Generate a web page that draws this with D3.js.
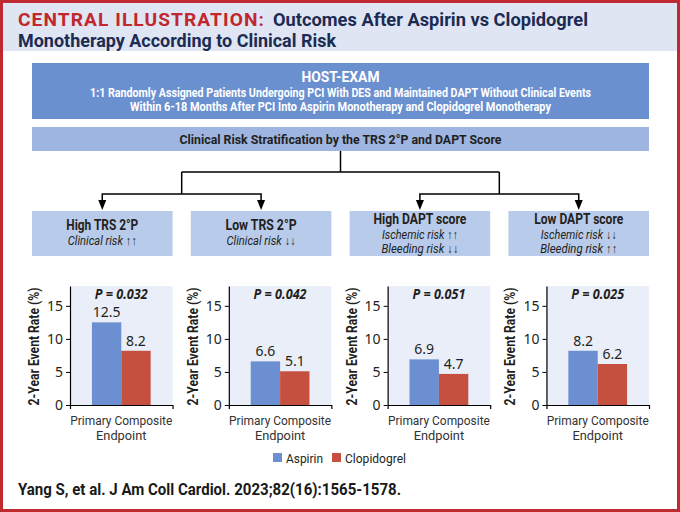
<!DOCTYPE html>
<html><head><meta charset="utf-8">
<script src="https://cdn.jsdelivr.net/npm/d3@7"></script>
<style>
html,body{margin:0;padding:0;background:#fff;}
svg{display:block;}
.cond{font-family:Roboto,"Noto Sans",sans-serif;}
.reg{font-family:"Noto Sans","Open Sans",sans-serif;}
</style>
</head><body>
<script>
// ---------- data ----------
const titleRed = "CENTRAL ILLUSTRATION:";
const titleLine1 = "Outcomes After Aspirin vs Clopidogrel";
const titleLine2 = "Monotherapy According to Clinical Risk";
const hostTitle = "HOST-EXAM";
const hostLines = [
  "1:1 Randomly Assigned Patients Undergoing PCI With DES and Maintained DAPT Without Clinical Events",
  "Within 6-18 Months After PCI Into Aspirin Monotherapy and Clopidogrel Monotherapy"
];
const stratText = "Clinical Risk Stratification by the TRS 2°P and DAPT Score";
const groups = ["High TRS 2°P", "Low TRS 2°P", "High DAPT score", "Low DAPT score"];
const groupSubs = [
  ["Clinical risk ↑↑"],
  ["Clinical risk ↓↓"],
  ["Ischemic risk ↑↑", "Bleeding risk ↓↓"],
  ["Ischemic risk ↓↓", "Bleeding risk ↑↑"]
];
const pValues = ["P = 0.032", "P = 0.042", "P = 0.051", "P = 0.025"];
const seriesNames = ["Aspirin", "Clopidogrel"];
const aspirin = [12.5, 6.6, 6.9, 8.2];
const clopidogrel = [8.2, 5.1, 4.7, 6.2];
const endpoint = ["Primary Composite", "Endpoint"];
const yTicks = [0, 5, 10, 15];
const yLabel = "2-Year Event Rate (%)";
const citation = "Yang S, et al. J Am Coll Cardiol. 2023;82(16):1565-1578.";

// ---------- styles ----------
const C = {
  border: "#bf2a30", band: "#dfe5f3", red: "#c1272d", navy: "#1c2b52",
  host: "#6b90d0", strat: "#9eb4e1", box: "#b9cbea", panel: "#e9eef8",
  aspirin: "#6b8fd1", clop: "#c65040", text: "#231f20"
};
const W = 680, H = 512;
const svg = d3.select("body").append("svg").attr("width", W).attr("height", H);
// squeeze a text/tspan to a measured width (emulates the condensed face of the original)
function fit(sel, w) {
  const n = sel.node().getComputedTextLength();
  if (Math.abs(n - w) > 0.5) sel.attr("textLength", w).attr("lengthAdjust", "spacingAndGlyphs");
  return sel;
}

// title band + border
svg.append("rect").attr("x", 2).attr("y", 2).attr("width", W - 4).attr("height", 49).attr("fill", C.band);
svg.append("rect").attr("x", 1.5).attr("y", 1.5).attr("width", W - 3).attr("height", H - 3)
  .attr("fill", "none").attr("stroke", C.border).attr("stroke-width", 3);

const tt = svg.append("text").attr("class", "cond").attr("font-size", 18).attr("font-weight", "bold");
fit(tt.append("tspan").attr("x", 18).attr("y", 26).attr("fill", C.red).attr("letter-spacing", 1).text(titleRed), 247);
fit(tt.append("tspan").attr("x", 273).attr("y", 26).attr("fill", C.navy).text(titleLine1), 315);
fit(tt.append("tspan").attr("x", 18).attr("y", 47).attr("fill", C.navy).text(titleLine2), 318);

// HOST box
const L = 32, R = 649;
svg.append("rect").attr("x", L).attr("y", 63).attr("width", R - L).attr("height", 56).attr("fill", C.host);
const mid = (L + R) / 2;
const ht = svg.append("text").attr("class", "cond").attr("text-anchor", "middle").attr("font-weight", "bold").attr("fill", "#fff");
fit(ht.append("tspan").attr("x", mid).attr("y", 82).attr("font-size", 14).text(hostTitle), 78);
const hostW = [501, 421];
hostLines.forEach((s, i) => {
  fit(ht.append("tspan").attr("x", mid).attr("y", 97 + i * 14).attr("font-size", 12).text(s), hostW[i]);
});
svg.append("rect").attr("x", L).attr("y", 127).attr("width", R - L).attr("height", 24).attr("fill", C.strat);
fit(svg.append("text").attr("class", "cond").attr("x", mid).attr("y", 143.5).attr("text-anchor", "middle")
  .attr("font-size", 13).attr("font-weight", "bold").attr("fill", C.text).text(stratText), 322);

// risk boxes
const bx = d3.scaleBand().domain(groups).range([L, R]).paddingInner(0.115).paddingOuter(0);
const cx = g => bx(g) + bx.bandwidth() / 2;
const br1 = (cx(groups[0]) + cx(groups[1])) / 2, br2 = (cx(groups[2]) + cx(groups[3])) / 2;
const trunk = (br1 + br2) / 2;
const lines = svg.append("g").attr("stroke", "#000").attr("stroke-width", 1.5).attr("fill", "none");
lines.append("path").attr("d", `M${trunk},151V172M${br1},172H${br2}M${br1},172V194M${br2},172V194`);
[[0, 1], [2, 3]].forEach(([a, b]) => {
  lines.append("path").attr("d", `M${cx(groups[a])},201V194H${cx(groups[b])}V201`);
});
groups.forEach(g => {
  svg.append("path").attr("d", `M${cx(g) - 4},200L${cx(g) + 4},200L${cx(g)},210Z`).attr("fill", "#000");
});
const titleW = [72, 71, 93, 89];
const subW = [[69], [69], [76, 77], [76, 77]];
groups.forEach((g, i) => {
  svg.append("rect").attr("x", bx(g)).attr("y", 211).attr("width", bx.bandwidth()).attr("height", 45).attr("fill", C.box);
  const two = groupSubs[i].length === 2;
  const bt = svg.append("text").attr("class", "cond").attr("text-anchor", "middle").attr("fill", C.text);
  fit(bt.append("tspan").attr("x", cx(g)).attr("y", two ? 224 : 230)
    .attr("font-size", 14).attr("font-weight", "bold").text(g), titleW[i]);
  groupSubs[i].forEach((s, j) => {
    fit(bt.append("tspan").attr("x", cx(g)).attr("y", (two ? 239 : 245) + j * 14.2)
      .attr("font-size", 12).attr("font-style", "italic").text(s), subW[i][j]);
  });
});

// bar charts
const y = d3.scaleLinear().domain([0, 18]).range([405, 286]);
groups.forEach((g, i) => {
  const x0 = bx(g) + 38, x1 = bx(g) + bx.bandwidth();
  const cat = endpoint.join(" ");
  const gx = d3.scaleBand().domain([cat]).range([x0, x1]).paddingOuter(0.373);
  const sx = d3.scaleBand().domain(seriesNames).range([gx(cat), gx(cat) + gx.bandwidth()]);
  const vals = [aspirin[i], clopidogrel[i]];
  svg.append("rect").attr("x", x0).attr("y", y(18)).attr("width", x1 - x0).attr("height", y(0) - y(18)).attr("fill", C.panel);
  seriesNames.forEach((s, k) => {
    svg.append("rect").attr("x", sx(s)).attr("y", y(vals[k])).attr("width", sx.bandwidth())
      .attr("height", y(0) - y(vals[k])).attr("fill", k === 0 ? C.aspirin : C.clop);
    svg.append("text").attr("class", "reg").attr("x", sx(s) + sx.bandwidth() / 2).attr("y", y(vals[k]) - 5)
      .attr("text-anchor", "middle").attr("font-size", 14).attr("fill", C.text).text(vals[k].toFixed(1));
  });
  fit(svg.append("text").attr("class", "reg").attr("x", (x0 + x1) / 2).attr("y", 299).attr("text-anchor", "middle")
    .attr("font-size", 14).attr("font-weight", "bold").attr("font-style", "italic").attr("fill", C.text).text(pValues[i]), 53);
  const ya = svg.append("g").attr("transform", `translate(${x0},0)`)
    .call(d3.axisLeft(y).tickValues(yTicks).tickSize(4).tickSizeOuter(0).tickPadding(3));
  ya.selectAll("text").attr("class", "reg").attr("font-size", 14).attr("fill", C.text);
  ya.select(".domain").attr("stroke-width", 1.2);
  const xa = svg.append("g").attr("transform", `translate(0,${y(0)})`)
    .call(d3.axisBottom(gx).tickValues([]).tickSizeOuter(4));
  xa.select(".domain").attr("stroke-width", 1.2);
  const epW = [102, 50];
  const et = svg.append("text").attr("class", "cond").attr("text-anchor", "middle").attr("font-size", 12.8).attr("fill", "#333");
  endpoint.forEach((s, j) => {
    fit(et.append("tspan").attr("x", (x0 + x1) / 2).attr("y", 425 + j * 15).text(s), epW[j]);
  });
  fit(svg.append("text").attr("class", "cond").attr("transform", `translate(${x0 - 31},${(y(0) + y(18)) / 2 + 1}) rotate(-90)`)
    .attr("text-anchor", "middle").attr("font-size", 15).attr("font-weight", "bold").attr("fill", C.text).text(yLabel), 118);
});

// legend
const lg = svg.append("g").attr("transform", "translate(273,453)");
const legW = [37, 61];
let lx = 0;
seriesNames.forEach((s, k) => {
  lg.append("rect").attr("x", lx).attr("y", 0).attr("width", 9).attr("height", 9).attr("fill", k === 0 ? C.aspirin : C.clop);
  fit(lg.append("text").attr("class", "cond").attr("x", lx + 13).attr("y", 9.5).attr("font-size", 13).attr("fill", C.text).text(s), legW[k]);
  lx += 13 + legW[k] + 9;
});

// citation
fit(svg.append("text").attr("class", "cond").attr("x", 18).attr("y", 495).attr("font-size", 17).attr("font-weight", "bold")
  .attr("fill", "#1a1a1a").text(citation), 383);
</script>
</body></html>
